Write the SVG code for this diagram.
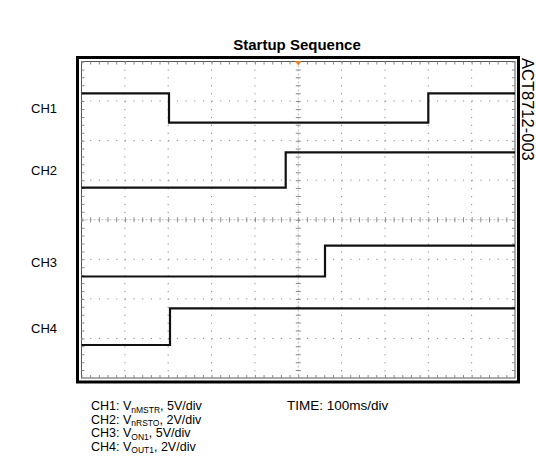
<svg xmlns="http://www.w3.org/2000/svg" width="536" height="474" viewBox="0 0 536 474">
<style>
text{font-family:"Liberation Sans",Arial,sans-serif;fill:#000}
.title{font-size:15px;font-weight:bold}
.ch{font-size:13px}
.ft{font-size:12.5px}
.sub{font-size:8.5px}
.gv{stroke:#8a8a8a;stroke-width:1;stroke-dasharray:1.2 6.7125;fill:none}
.gh{stroke:#8a8a8a;stroke-width:1;stroke-dasharray:1.2 7.47;fill:none}
.tv{stroke:#8a8a8a;stroke-width:5;stroke-dasharray:1 6.9125;fill:none}
.th{stroke:#8a8a8a;stroke-width:5;stroke-dasharray:1 7.67;fill:none}
.ev{stroke:#8a8a8a;stroke-width:3;stroke-dasharray:1 6.9125;fill:none}
.eh{stroke:#8a8a8a;stroke-width:3;stroke-dasharray:1 7.67;fill:none}
.tr{stroke:#111;stroke-width:2.2;fill:none;stroke-linejoin:miter}
</style>
<rect width="536" height="474" fill="#fff"/>
<text class="title" x="297" y="50" text-anchor="middle">Startup Sequence</text>
<g id="scope">
<rect x="81.5" y="61.5" width="433.5" height="316.5" fill="#fff" stroke="#555" stroke-width="1"/>
<g id="grid">
<line class="gv" x1="124.85" y1="61.5" x2="124.85" y2="378"/>
<line class="gv" x1="168.2" y1="61.5" x2="168.2" y2="378"/>
<line class="gv" x1="211.55" y1="61.5" x2="211.55" y2="378"/>
<line class="gv" x1="254.9" y1="61.5" x2="254.9" y2="378"/>
<line class="gv" x1="341.6" y1="61.5" x2="341.6" y2="378"/>
<line class="gv" x1="384.95" y1="61.5" x2="384.95" y2="378"/>
<line class="gv" x1="428.3" y1="61.5" x2="428.3" y2="378"/>
<line class="gv" x1="471.65" y1="61.5" x2="471.65" y2="378"/>
<line class="gh" x1="81.5" y1="101.06" x2="515" y2="101.06"/>
<line class="gh" x1="81.5" y1="140.63" x2="515" y2="140.63"/>
<line class="gh" x1="81.5" y1="180.19" x2="515" y2="180.19"/>
<line class="gh" x1="81.5" y1="259.31" x2="515" y2="259.31"/>
<line class="gh" x1="81.5" y1="298.88" x2="515" y2="298.88"/>
<line class="gh" x1="81.5" y1="338.44" x2="515" y2="338.44"/>
<line x1="298.25" y1="61.5" x2="298.25" y2="378" stroke="#aaa" stroke-width="0.8" stroke-dasharray="2 2"/>
<line x1="81.5" y1="219.75" x2="515" y2="219.75" stroke="#aaa" stroke-width="0.8" stroke-dasharray="2 2"/>
<line class="tv" x1="298.25" y1="61.5" x2="298.25" y2="378"/>
<line class="th" x1="81.5" y1="219.75" x2="515" y2="219.75"/>
<line class="eh" x1="81.5" y1="63" x2="515" y2="63"/>
<line class="eh" x1="81.5" y1="376.5" x2="515" y2="376.5"/>
<line class="ev" x1="83" y1="61.5" x2="83" y2="378"/>
<line class="ev" x1="513.5" y1="61.5" x2="513.5" y2="378"/>
</g>
<g id="traces">
<polyline id="ch1-trace" class="tr" points="81.5,93.3 169,93.3 169,122.7 428.3,122.7 428.3,93.3 515,93.3"/>
<polyline id="ch2-trace" class="tr" points="81.5,187.7 285.7,187.7 285.7,152.3 515,152.3"/>
<polyline id="ch3-trace" class="tr" points="81.5,276.5 325,276.5 325,245.7 515,245.7"/>
<polyline id="ch4-trace" class="tr" points="81.5,345 170,345 170,308.3 515,308.3"/>
</g>
<polygon id="trigger" points="295,61 301.5,61 298.25,65.5" fill="#f08020"/>
<rect x="77.5" y="57.5" width="441" height="324.5" fill="none" stroke="#000" stroke-width="3"/>
</g>
<g id="labels">
<text class="ch" x="31" y="112.5">CH1</text>
<text class="ch" x="31" y="175">CH2</text>
<text class="ch" x="31" y="266.5">CH3</text>
<text class="ch" x="31" y="332.5">CH4</text>
<text transform="translate(522,58) rotate(90)" font-size="16.5">ACT8712-003</text>
</g>
<g id="legend">
<text class="ft" x="91" y="410">CH1: V<tspan class="sub" dy="2.5">nMSTR</tspan><tspan dy="-2.5">, 5V/div</tspan></text>
<text class="ft" x="91" y="423.5">CH2: V<tspan class="sub" dy="2.5">nRSTO</tspan><tspan dy="-2.5">, 2V/div</tspan></text>
<text class="ft" x="91" y="437">CH3: V<tspan class="sub" dy="2.5">ON1</tspan><tspan dy="-2.5">, 5V/div</tspan></text>
<text class="ft" x="91" y="450.5">CH4: V<tspan class="sub" dy="2.5">OUT1</tspan><tspan dy="-2.5">, 2V/div</tspan></text>
<text x="287" y="410" font-size="13.5">TIME: 100ms/div</text>
</g>
</svg>
